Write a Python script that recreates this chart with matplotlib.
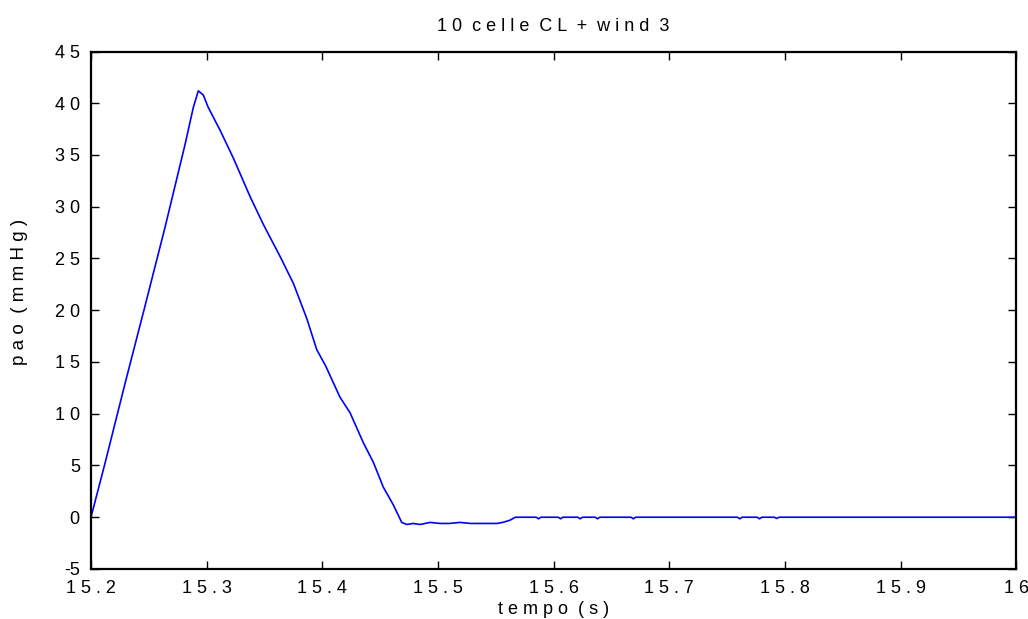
import matplotlib
matplotlib.use("Agg")
import matplotlib.pyplot as plt

plt.rcParams['font.family'] = ['Liberation Sans', 'DejaVu Sans']

# aortic pressure trace
tempo = [15.2000, 15.2121, 15.2294, 15.2467, 15.2640, 15.2813,
         15.2885, 15.2928, 15.2971, 15.3014, 15.3116, 15.3231, 15.3375, 15.3490,
         15.3635, 15.3750, 15.3866, 15.3952, 15.4030, 15.4153, 15.4240, 15.4355,
         15.4442, 15.4528, 15.4614, 15.4687, 15.4730, 15.4785, 15.4845, 15.4932,
         15.5020, 15.5100, 15.5190, 15.5280, 15.5510, 15.5560, 15.5620, 15.5670,
         15.5850, 15.5870, 15.5890, 15.6040, 15.6060, 15.6080, 15.6210, 15.6230,
         15.6250, 15.6360, 15.6380, 15.6400, 15.6670, 15.6690, 15.6710, 15.7590,
         15.7610, 15.7630, 15.7760, 15.7780, 15.7800, 15.7910, 15.7930, 15.7950,
         16.0000]
pao = [0.0, 5.2, 12.9, 20.4, 28.0, 36.0,
       39.6, 41.2, 40.8, 39.6, 37.4, 34.7, 31.0, 28.3,
       25.2, 22.6, 19.2, 16.2, 14.6, 11.6, 10.1, 7.2,
       5.3, 2.9, 1.2, -0.5, -0.7, -0.6, -0.7, -0.5,
       -0.6, -0.6, -0.5, -0.6, -0.6, -0.5, -0.3, 0.0,
       0.0, -0.15, 0.0, 0.0, -0.15, 0.0, 0.0, -0.15,
       0.0, 0.0, -0.15, 0.0, 0.0, -0.15, 0.0, 0.0,
       -0.15, 0.0, 0.0, -0.15, 0.0, 0.0, -0.12, 0.0,
       0.0]

x_ticks = [15.2, 15.3, 15.4, 15.5, 15.6, 15.7, 15.8, 15.9, 16.0]
x_tick_labels = ["1 5 . 2", "1 5 . 3", "1 5 . 4", "1 5 . 5", "1 5 . 6",
                 "1 5 . 7", "1 5 . 8", "1 5 . 9", "1 6"]
y_ticks = [-5, 0, 5, 10, 15, 20, 25, 30, 35, 40, 45]
y_tick_labels = ["-5", "0", "5", "1 0", "1 5", "2 0", "2 5", "3 0", "3 5", "4 0", "4 5"]

fig = plt.figure(figsize=(10.28, 6.19), dpi=100)
ax = fig.add_axes([0.0885, 0.0808, 0.9, 0.836])

ax.plot(tempo, pao, color=(0, 0, 1), linewidth=1.2)

ax.set_xlim(15.2, 16.0)
ax.set_ylim(-5, 45)
ax.set_xticks(x_ticks)
ax.set_xticklabels(x_tick_labels)
ax.set_yticks(y_ticks)
ax.set_yticklabels(y_tick_labels)

ax.tick_params(direction='in', length=6, width=1.0, top=True, right=True,
               labelsize=13, colors='black')
ax.tick_params(axis='x', pad=8)
ax.tick_params(axis='y', pad=8)
for s in ax.spines.values():
    s.set_linewidth(1.6)

ax.set_title("1 0  c e l l e  C L  +  w i n d  3", fontsize=13, pad=15)
ax.set_xlabel("t e m p o  ( s )", fontsize=13, labelpad=3)
ax.set_ylabel("p a o  ( m m H g )", fontsize=13.5, labelpad=18)
ax.yaxis.set_label_coords(-0.068, 0.535)

fig.savefig("out.png", dpi=100)
